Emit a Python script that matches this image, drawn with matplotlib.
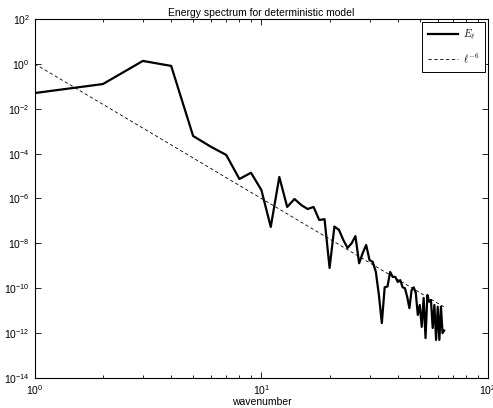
"""
Energy spectrum for deterministic model (log-log, MATLAB look).
"""

import numpy as np
import matplotlib
matplotlib.use("Agg")
import matplotlib.pyplot as plt
from matplotlib.ticker import LogLocator, NullFormatter, LogFormatterMathtext

# wavenumbers 1..64 and spectrum values
wavenumber = list(range(1, 65))
energy = [
    5.0e-2, 1.26e-1, 1.35, 8.1e-1, 6.1e-4, 2.0e-4, 8.7e-5, 7.4e-6,
    1.4e-5, 2.4e-6, 5.4e-8, 9.1e-6, 4.2e-7, 9.5e-7, 5.1e-7, 3.4e-7,
    4.2e-7, 1.1e-7, 1.2e-7, 8.0e-10, 5.6e-8, 4.0e-8, 1.4e-8, 6.3e-9,
    1.0e-8, 2.1e-8, 1.3e-9, 3.7e-9, 8.5e-9, 1.8e-9, 1.5e-9, 5.3e-10,
    5.0e-11, 2.8e-12, 1.1e-10, 1.2e-10, 5.3e-10, 3.2e-10, 3.2e-10, 1.9e-10,
    2.3e-10, 1.1e-10, 1.0e-10, 4.1e-11, 1.3e-11, 8.3e-11, 1.1e-10, 6.2e-11,
    6.5e-12, 1.8e-11, 1.9e-12, 3.7e-11, 6.0e-13, 5.0e-11, 2.5e-11, 3.0e-11,
    1.7e-12, 1.8e-11, 5.0e-13, 1.5e-11, 5.0e-13, 1.5e-11, 1.0e-12, 1.3e-12,
]
slope = -6
ref_scale = 1.0

plt.rcParams['font.family'] = ['Liberation Sans', 'DejaVu Sans']
plt.rcParams['mathtext.fontset'] = 'cm'

k = np.array(wavenumber, dtype=float)
fig = plt.figure(figsize=(4.93, 4.08), dpi=100)
ax = fig.add_axes([0.0704, 0.0735, 0.9195, 0.88])

ax.loglog(k, energy, '-', color='black', linewidth=1.6, label=r'$E_\ell$')
ax.loglog(k, ref_scale * k ** slope, '--', color='black', linewidth=0.6,
          dashes=(4, 3), label=r'$\ell^{-6}$')

ax.set_xlim(1, 100)
ax.set_ylim(1e-14, 1e2)

ax.xaxis.set_major_locator(LogLocator(base=10))
ax.xaxis.set_minor_locator(LogLocator(base=10, subs=np.arange(2, 10)))
ax.xaxis.set_minor_formatter(NullFormatter())
ax.yaxis.set_major_locator(LogLocator(base=100))
ax.yaxis.set_major_formatter(LogFormatterMathtext(base=10))
ax.yaxis.set_minor_locator(plt.NullLocator())

ax.tick_params(which='both', direction='in', top=True, right=True,
               labelsize=7.5, width=0.6)
ax.tick_params(which='major', length=4)
ax.tick_params(which='minor', length=2.5)
for sp in ax.spines.values():
    sp.set_linewidth(0.8)

ax.set_title('Energy spectrum for deterministic model', fontsize=7.5, pad=2)
ax.set_xlabel('wavenumber', fontsize=7.5, labelpad=0)

leg = ax.legend(loc='upper right', fontsize=7.5, fancybox=False,
                edgecolor='black', framealpha=1, handlelength=2.9,
                handletextpad=0.4, borderpad=0.6, labelspacing=0.9,
                borderaxespad=0.25)
leg.get_frame().set_linewidth(0.7)

fig.savefig('out.png', dpi=100)
